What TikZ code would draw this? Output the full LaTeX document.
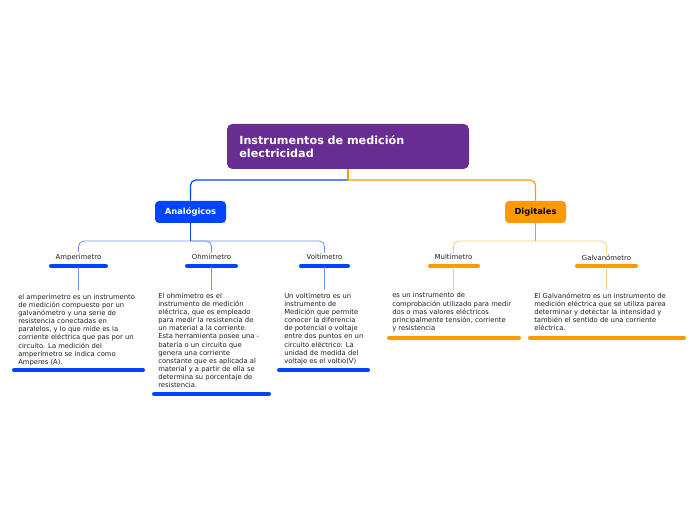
\documentclass[tikz,border=0pt]{standalone}
\usepackage{fontspec}
\setmainfont{DejaVu Sans}
\definecolor{rootpurple}{RGB}{104,45,145}
\definecolor{mainblue}{RGB}{0,68,255}
\definecolor{mainorange}{RGB}{255,153,0}
\definecolor{subblue}{RGB}{110,145,255}
\definecolor{suborange}{RGB}{255,205,130}
\definecolor{txtgray}{RGB}{30,30,30}
\begin{document}
\begin{tikzpicture}[x=0.75pt,y=-0.75pt,
  rootbox/.style={fill=rootpurple,rounded corners=4pt,minimum width=181.5pt,minimum height=33.75pt,text width=163pt,align=left,text=white,font=\fontsize{8.4}{9.75}\selectfont\bfseries,inner sep=0pt},
  anabox/.style={fill=mainblue,rounded corners=3pt,minimum width=53.25pt,minimum height=16.5pt,text=white,font=\fontsize{6.3}{7}\selectfont\bfseries,inner sep=0pt},
  digbox/.style={fill=mainorange,rounded corners=3pt,minimum width=45.75pt,minimum height=16.5pt,text=black,font=\fontsize{6.3}{7}\selectfont\bfseries,inner sep=0pt},
  lbl/.style={font=\fontsize{5.2}{6}\selectfont,text=txtgray,inner sep=1pt},
  body/.style={font=\fontsize{5.1}{6.1}\selectfont,text=txtgray,align=left,inner sep=0pt,anchor=north west},
  bluemain/.style={draw=mainblue,line width=0.9pt,rounded corners=4pt},
  orangemain/.style={draw=mainorange,line width=0.9pt,rounded corners=4pt},
  bluesub/.style={draw=subblue,line width=0.6pt,rounded corners=4pt},
  orangesub/.style={draw=suborange,line width=0.6pt,rounded corners=4pt},
  bluebar/.style={draw=mainblue,line width=3pt,line cap=round},
  orangebar/.style={draw=mainorange,line width=3pt,line cap=round}]
\useasboundingbox (0,0) rectangle (696,520);

\node[rootbox] (root) at (348,146.5) {Instrumentos de medición\\electricidad};
\node[anabox] (ana) at (190.5,212) {Analógicos};
\node[digbox] (dig) at (535.5,212) {Digitales};

\coordinate (rj) at (348,180);
\draw[bluemain] (rj) -| (ana.north);
\draw[orangemain] (rj) -| (dig.north);
\draw[orangemain] (root.south) -- (rj);

% labels
\node[lbl] (amp) at (78.5,257) {Amperímetro};
\node[lbl] (ohm) at (211.5,257) {Ohmímetro};
\node[lbl] (vol) at (324.5,257) {Voltímetro};
\node[lbl] (mul) at (453.5,257) {Multímetro};
\node[lbl] (gal) at (606.5,258) {Galvanómetro};

\coordinate (aj) at (190.5,241);
\coordinate (dj) at (535.5,241);
\draw[bluesub] (aj) -| (amp.north);
\draw[bluesub] (aj) -| (ohm.north);
\draw[bluesub] (aj) -| (vol.north);
\draw[orangesub] (dj) -| (mul.north);
\draw[orangesub] (dj) -| (gal.north);
\draw[bluemain] (ana.south) -- (aj);
\draw[orangemain] (dig.south) -- (dj);

% upper bars
\coordinate (ampbl) at (51,266); \coordinate (ampbr) at (106,266); \coordinate (ampbc) at (78.5,267);
\coordinate (ohmbl) at (187,266); \coordinate (ohmbr) at (236,266); \coordinate (ohmbc) at (211.5,267);
\coordinate (volbl) at (301,266); \coordinate (volbr) at (348,266); \coordinate (volbc) at (324.5,267);
\coordinate (mulbl) at (430,266); \coordinate (mulbr) at (478,266); \coordinate (mulbc) at (453.5,267);
\coordinate (galbl) at (577,266); \coordinate (galbr) at (636,266); \coordinate (galbc) at (606.5,267);
\draw[bluebar] (ampbl) -- (ampbr);
\draw[bluebar] (ohmbl) -- (ohmbr);
\draw[bluebar] (volbl) -- (volbr);
\draw[orangebar] (mulbl) -- (mulbr);
\draw[orangebar] (galbl) -- (galbr);

% body texts
\node[body] (ampt) at (18,293.5) {el amperímetro es un instrumento\\de medición compuesto por un\\galvanómetro y una serie de\\resistencia conectadas en\\paralelos, y lo que mide es la\\corriente eléctrica que pas por un\\circuito. La medición del\\amperímetro se indica como\\Amperes (A).};
\node[body] (ohmt) at (158,292.5) {El ohmímetro es el\\instrumento de medición\\eléctrica, que es empleado\\para medir la resistencia de\\un material a la corriente.\\Esta herramienta posee una -\\batería o un circuito que\\genera una corriente\\constante que es aplicada al\\material y a partir de ella se\\determina su porcentaje de\\resistencia.};
\node[body] (volt) at (284,292.5) {Un voltímetro es un\\instrumento de\\Medición que permite\\conocer la diferencia\\de potencial o voltaje\\entre dos puntos en un\\circuito eléctrico: La\\unidad de medida del\\voltaje es el voltio(V)};
\node[body] (mult) at (392,292.5) {es un instrumento de\\comprobación utilizado para medir\\dos o mas valores eléctricos\\principalmente tensión, corriente\\y resistencia};
\node[body] (galt) at (534,292.5) {El Galvanómetro es un instrumento de\\medición eléctrica que se utiliza parea\\determinar y detectar la intensidad y\\también el sentido de una corriente\\eléctrica.};

\draw[bluesub] (ampbc) -- (ampbc |- 0,290);
\draw[bluesub] (ohmbc) -- (ohmbc |- 0,290);
\draw[bluesub] (volbc) -- (volbc |- 0,290);
\draw[orangesub] (mulbc) -- (mulbc |- 0,290);
\draw[orangesub] (galbc) -- (galbc |- 0,290);

% lower bars
\coordinate (amplb) at (14,370); \coordinate (amprb) at (143,370);
\coordinate (ohmlb) at (154,394); \coordinate (ohmrb) at (269,394);
\coordinate (vollb) at (279,370); \coordinate (volrb) at (368,370);
\coordinate (mullb) at (389,338); \coordinate (mulrb) at (519,338);
\coordinate (gallb) at (530,338); \coordinate (galrb) at (684,338);
\draw[bluebar] (amplb) -- (amprb);
\draw[bluebar] (ohmlb) -- (ohmrb);
\draw[bluebar] (vollb) -- (volrb);
\draw[orangebar] (mullb) -- (mulrb);
\draw[orangebar] (gallb) -- (galrb);
\end{tikzpicture}
\end{document}
